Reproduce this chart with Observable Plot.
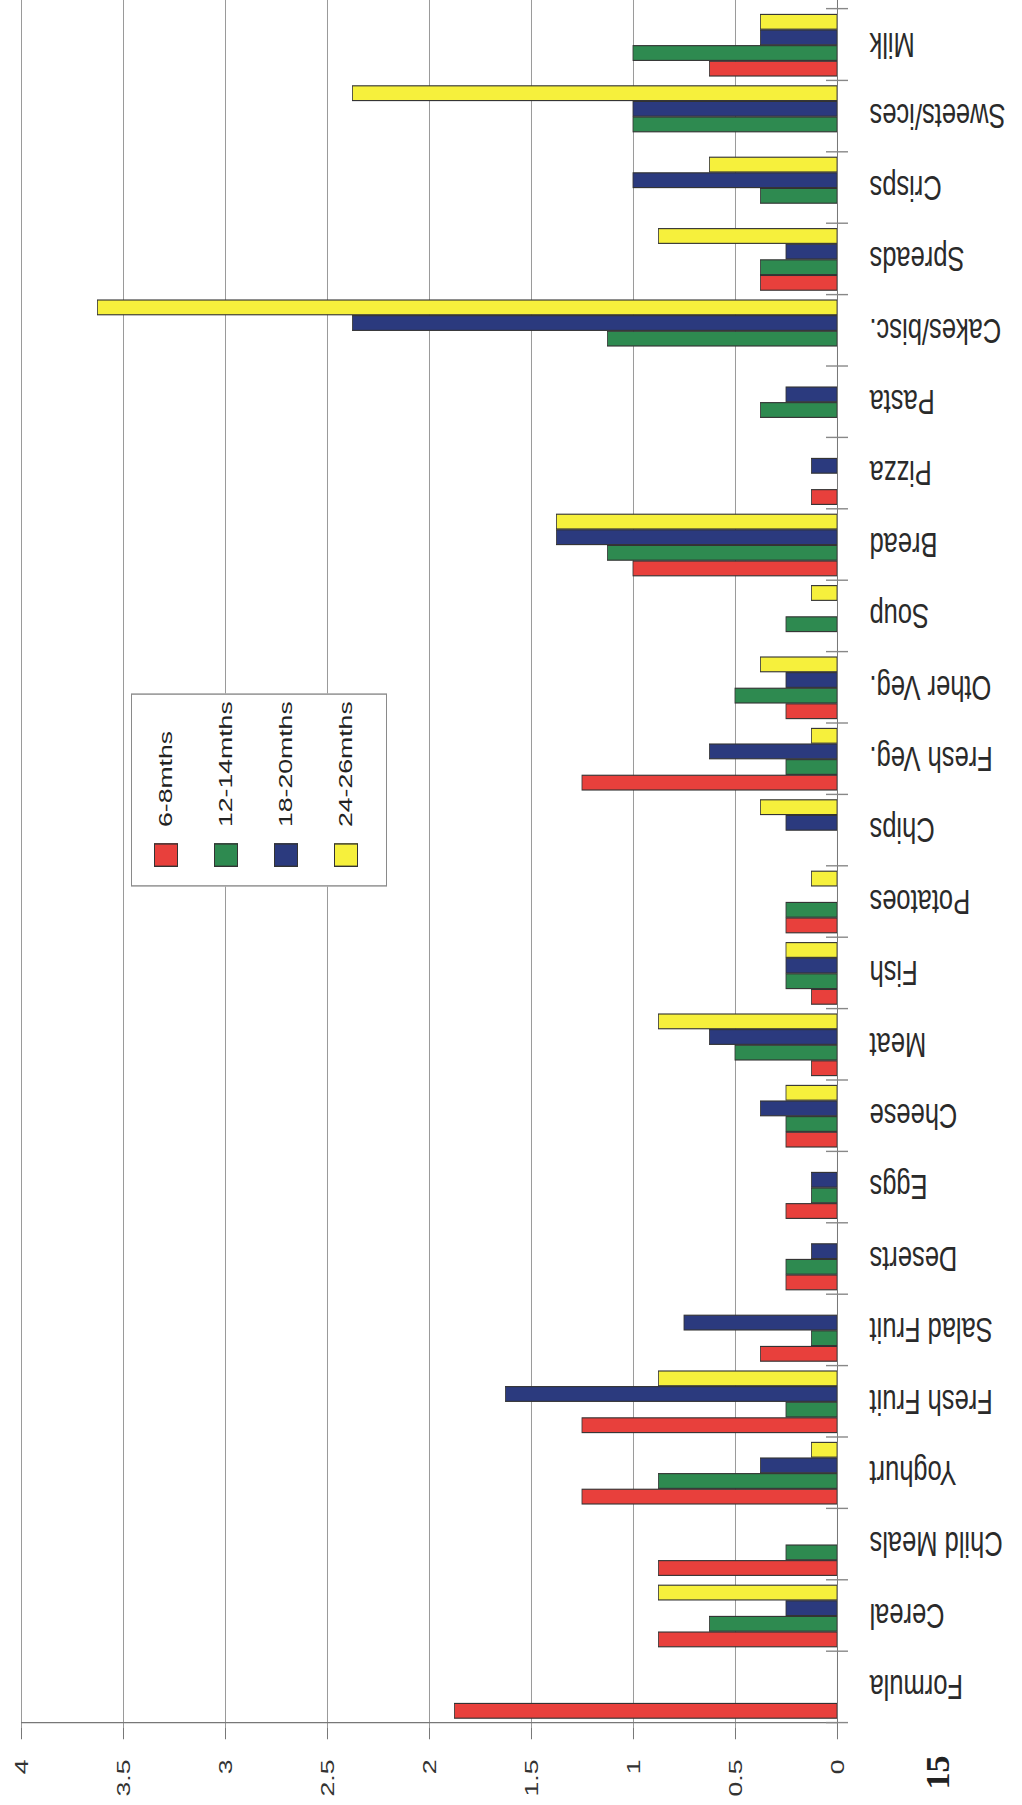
<!DOCTYPE html>
<html>
<head>
<meta charset="utf-8">
<script src="https://cdn.jsdelivr.net/npm/d3@7"></script>
<script src="https://cdn.jsdelivr.net/npm/@observablehq/plot@0.6"></script>
<style>
html, body { margin: 0; padding: 0; background: #fff; width: 1022px; height: 1805px; overflow: hidden; }
#page {
  position: absolute; left: 0; top: 0;
  width: 1289.29px; height: 1022px;
  transform-origin: 0 0;
  transform: translateY(1805px) rotate(-90deg) scaleX(1.4);
  font-family: "Liberation Sans", Arial, Helvetica, sans-serif;
}
#chart { position: absolute; left: 0; top: 0; }
#legend {
  position: absolute; left: 655.7px; top: 131px; width: 138.6px; height: 256px;
  border: 1px solid #8a8a8a; box-sizing: border-box; background: #fff;
}
.lrow { position: absolute; left: 0; height: 60px; display: flex; align-items: center; }
.lsw { margin-left: 13.3px; width: 17px; height: 24px; border: 1px solid #333; box-sizing: border-box; }
.ltx { margin-left: 11.6px; font-size: 19px; color: #222; white-space: nowrap; }
#pageno {
  position: absolute; left: 10.7px; top: 921px;
  font-family: "Liberation Serif", "DejaVu Serif", serif; font-weight: bold;
  font-size: 34px; line-height: 34px; color: #222;
  transform-origin: 0 50%; transform: scaleX(0.72);
}
</style>
</head>
<body>
<div id="page">
  <div id="chart"></div>
  <div id="legend"></div>
  <div id="pageno">15</div>
</div>
<script>
// ---- data ----
const categories = ["Formula","Cereal","Child Meals","Yoghurt","Fresh Fruit","Salad Fruit","Deserts","Eggs","Cheese","Meat","Fish","Potatoes","Chips","Fresh Veg.","Other Veg.","Soup","Bread","Pizza","Pasta","Cakes/bisc.","Spreads","Crisps","Sweets/ices","Milk"];
const seriesNames = ["6-8mths","12-14mths","18-20mths","24-26mths"];
const m6_8   = [1.875,0.875,0.875,1.25,1.25,0.375,0.25,0.25,0.25,0.125,0.125,0.25,0,1.25,0.25,0,1.0,0.125,0,0,0.375,0,0,0.625];
const m12_14 = [0,0.625,0.25,0.875,0.25,0.125,0.25,0.125,0.25,0.5,0.25,0.25,0,0.25,0.5,0.25,1.125,0,0.375,1.125,0.375,0.375,1.0,1.0];
const m18_20 = [0,0.25,0,0.375,1.625,0.75,0.125,0.125,0.375,0.625,0.25,0,0.25,0.625,0.25,0,1.375,0.125,0.25,2.375,0.25,1.0,1.0,0.375];
const m24_26 = [0,0.875,0,0.125,0.875,0,0,0,0.25,0.875,0.25,0.125,0.375,0.125,0.375,0.125,1.375,0,0,3.625,0.875,0.625,2.375,0.375];
const yTicks = [0,0.5,1,1.5,2,2.5,3,3.5,4];
const colors = ["#e8403c","#2e8a50","#2b3a7e","#f6f03c"];

const seriesValues = [m6_8, m12_14, m18_20, m24_26];

// ---- layout (drawn upright, then the page is turned like the scan) ----
const W = 1805 / 1.4, H = 1022;
const x0 = 55, x1 = 1285.7;
const pin = 0.13;
const step = (x1 - x0) / categories.length;
const barW = step * (1 - pin) / 4;

const rows = (vals, s) => categories.map((c, i) => ({category: c, series: s, value: vals[i]})).filter(d => d.value > 0);

const chart = Plot.plot({
  width: W, height: H,
  marginLeft: x0, marginRight: 0, marginTop: 21, marginBottom: 185,
  style: {fontFamily: '"Liberation Sans", Arial, Helvetica, sans-serif', background: "transparent", overflow: "visible"},
  x: {type: "band", domain: categories, range: [x0, x1], paddingInner: pin, paddingOuter: pin / 2, axis: null},
  y: {domain: [0, 4], label: null, axis: null},
  marks: [
    Plot.gridY(yTicks, {stroke: "#9a9a9a", strokeOpacity: 1, strokeWidth: 1}),
    ...seriesValues.map((vals, i) => Plot.barY(rows(vals, seriesNames[i]), {
      x: "category", y: "value", fill: colors[i], stroke: "#333", strokeWidth: 0.8,
      insetLeft: i * barW, insetRight: (3 - i) * barW
    })),
    Plot.ruleY([0], {stroke: "#777", strokeWidth: 1}),
    Plot.ruleX([categories[0]], {x: d => d, dx: -step / 2, stroke: "#777", strokeWidth: 1}),
    Plot.ruleX(categories, {x: d => d, y1: 0, y2: 0, insetTop: -11, insetBottom: -11, dx: -step / 2, stroke: "#888"}),
    Plot.ruleX([categories[categories.length - 1]], {x: d => d, y1: 0, y2: 0, insetTop: -11, insetBottom: -11, dx: step / 2, stroke: "#888"}),
    // value-axis ticks and labels
    Plot.ruleY(yTicks, {y: d => d, insetLeft: -8, insetRight: W - x0, stroke: "#777"}),
    Plot.text(yTicks, {y: d => d, text: d => String(d), frameAnchor: "left", textAnchor: "end", dx: -23, fontSize: 19, fill: "#333"}),
    // category labels
    Plot.text(categories, {x: d => d, frameAnchor: "bottom", rotate: -90, textAnchor: "end", lineAnchor: "middle", dy: 32, fontSize: 25.5, fill: "#2a2a2a"})
  ]
});
document.getElementById("chart").appendChild(chart);

// ---- legend ----
const legend = document.getElementById("legend");
seriesNames.forEach((name, i) => {
  const row = document.createElement("div");
  row.className = "lrow";
  row.style.top = (4 + i * 60) + "px";
  const sw = document.createElement("div");
  sw.className = "lsw";
  sw.style.background = colors[i];
  const tx = document.createElement("div");
  tx.className = "ltx";
  tx.textContent = name;
  row.appendChild(sw); row.appendChild(tx);
  legend.appendChild(row);
});
</script>
</body>
</html>
